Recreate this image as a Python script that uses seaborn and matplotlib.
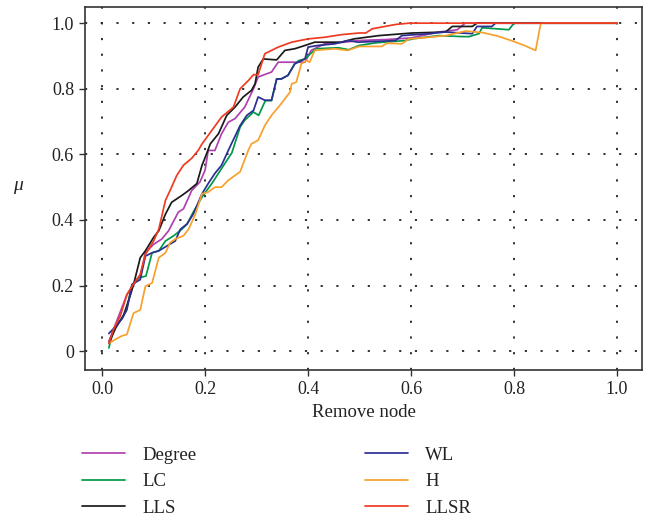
import numpy as np
import pandas as pd
import seaborn as sns
import matplotlib
matplotlib.use("Agg")
import matplotlib.pyplot as plt
from matplotlib.ticker import FixedLocator, FuncFormatter

# ---- data ----
x_degree = [0.013, 0.023, 0.048, 0.061, 0.074, 0.084, 0.10, 0.116, 0.129, 0.148, 0.158, 0.174, 0.19, 0.2,
            0.206, 0.219, 0.232, 0.245, 0.258, 0.277, 0.294, 0.303, 0.329, 0.342, 0.394, 0.406, 0.432, 0.471,
            0.497, 0.55, 0.60, 0.654, 0.69, 0.705, 1.0]
y_degree = [0.03, 0.07, 0.172, 0.203, 0.229, 0.30, 0.326, 0.342, 0.367, 0.424, 0.434, 0.49, 0.516, 0.552,
            0.612, 0.612, 0.663, 0.698, 0.709, 0.744, 0.80, 0.836, 0.851, 0.881, 0.881, 0.917, 0.937, 0.942,
            0.947, 0.95, 0.955, 0.973, 0.98, 1.0, 1.0]

x_lc = [0.013, 0.023, 0.039, 0.048, 0.058, 0.071, 0.085, 0.097, 0.11, 0.123, 0.139, 0.155, 0.165, 0.177,
        0.194, 0.213, 0.232, 0.252, 0.268, 0.277, 0.294, 0.304, 0.317, 0.329, 0.339, 0.348, 0.361, 0.374,
        0.382, 0.394, 0.415, 0.459, 0.479, 0.499, 0.531, 0.589, 0.602, 0.654, 0.70, 0.713, 0.732, 0.738,
        0.79, 0.80, 1.0]
y_lc = [0.01, 0.07, 0.10, 0.131, 0.203, 0.224, 0.229, 0.30, 0.306, 0.336, 0.352, 0.372, 0.388, 0.424,
        0.47, 0.511, 0.557, 0.605, 0.683, 0.704, 0.729, 0.719, 0.764, 0.764, 0.83, 0.83, 0.841, 0.876,
        0.886, 0.891, 0.922, 0.925, 0.919, 0.932, 0.94, 0.947, 0.952, 0.962, 0.959, 0.959, 0.968, 0.986,
        0.98, 1.0, 1.0]

x_lls = [0.013, 0.026, 0.042, 0.055, 0.061, 0.074, 0.084, 0.10, 0.11, 0.123, 0.135, 0.155, 0.168, 0.184,
         0.194, 0.20, 0.21, 0.226, 0.242, 0.258, 0.274, 0.29, 0.297, 0.303, 0.313, 0.339, 0.355, 0.374,
         0.394, 0.413, 0.465, 0.489, 0.537, 0.602, 0.667, 0.68, 0.719, 0.728, 1.0]
y_lls = [0.024, 0.07, 0.111, 0.172, 0.203, 0.285, 0.306, 0.347, 0.367, 0.418, 0.454, 0.475, 0.49, 0.511,
         0.567, 0.59, 0.632, 0.663, 0.719, 0.744, 0.775, 0.795, 0.815, 0.866, 0.891, 0.888, 0.917, 0.922,
         0.932, 0.942, 0.942, 0.952, 0.962, 0.97, 0.973, 0.99, 0.99, 1.0, 1.0]

x_wl = [0.013, 0.026, 0.039, 0.048, 0.058, 0.068, 0.074, 0.084, 0.097, 0.11, 0.126, 0.142, 0.152, 0.165,
        0.177, 0.194, 0.206, 0.219, 0.232, 0.245, 0.268, 0.281, 0.294, 0.303, 0.316, 0.329, 0.339, 0.348,
        0.361, 0.374, 0.394, 0.40, 0.419, 0.452, 0.477, 0.497, 0.57, 0.582, 0.635, 0.667, 0.719, 0.728,
        0.757, 0.764, 1.0]
y_wl = [0.054, 0.075, 0.10, 0.126, 0.203, 0.213, 0.218, 0.29, 0.30, 0.306, 0.321, 0.336, 0.372, 0.388,
        0.418, 0.48, 0.511, 0.542, 0.567, 0.612, 0.688, 0.719, 0.734, 0.775, 0.765, 0.765, 0.83, 0.83,
        0.841, 0.876, 0.891, 0.927, 0.932, 0.937, 0.947, 0.942, 0.947, 0.962, 0.968, 0.973, 0.968, 0.99,
        0.99, 1.0, 1.0]

x_h = [0.013, 0.029, 0.039, 0.048, 0.061, 0.074, 0.084, 0.097, 0.11, 0.123, 0.132, 0.142, 0.158, 0.168,
       0.181, 0.194, 0.206, 0.219, 0.232, 0.245, 0.268, 0.284, 0.29, 0.303, 0.316, 0.329, 0.345, 0.365,
       0.368, 0.377, 0.387, 0.397, 0.403, 0.413, 0.452, 0.477, 0.499, 0.543, 0.553, 0.582, 0.596, 0.635,
       0.667, 0.706, 0.74, 0.77, 0.80, 0.82, 0.842, 0.852, 1.0]
y_h = [0.024, 0.039, 0.047, 0.051, 0.116, 0.126, 0.198, 0.208, 0.285, 0.30, 0.331, 0.342, 0.352, 0.372,
       0.418, 0.48, 0.485, 0.50, 0.50, 0.521, 0.547, 0.613, 0.632, 0.643, 0.688, 0.719, 0.749, 0.79,
       0.815, 0.82, 0.876, 0.886, 0.881, 0.917, 0.922, 0.917, 0.929, 0.929, 0.939, 0.937, 0.952, 0.957,
       0.962, 0.976, 0.971, 0.96, 0.944, 0.932, 0.917, 1.0, 1.0]

x_llsr = [0.013, 0.023, 0.035, 0.048, 0.058, 0.074, 0.084, 0.10, 0.11, 0.123, 0.132, 0.145, 0.158, 0.174,
          0.187, 0.194, 0.213, 0.232, 0.255, 0.268, 0.284, 0.294, 0.303, 0.316, 0.342, 0.368, 0.40, 0.432,
          0.465, 0.499, 0.512, 0.525, 0.570, 0.596, 1.0]
y_llsr = [0.024, 0.07, 0.106, 0.172, 0.198, 0.234, 0.295, 0.336, 0.372, 0.46, 0.49, 0.536, 0.567, 0.588,
          0.613, 0.632, 0.673, 0.714, 0.744, 0.80, 0.825, 0.843, 0.843, 0.907, 0.927, 0.942, 0.952, 0.957,
          0.965, 0.970, 0.970, 0.983, 0.996, 1.0, 1.0]

methods = ["Degree", "LC", "LLS", "WL", "H", "LLSR"]
colors = ["#b040b0", "#00994a", "#1a1a1a", "#2b2f90", "#f7a02c", "#ee3b22"]
xs = [x_degree, x_lc, x_lls, x_wl, x_h, x_llsr]
ys = [y_degree, y_lc, y_lls, y_wl, y_h, y_llsr]

x_ticks = [0.0, 0.2, 0.4, 0.6, 0.8, 1.0]
y_ticks = [0.0, 0.2, 0.4, 0.6, 0.8, 1.0]

frames = []
for m, xv, yv in zip(methods, xs, ys):
    frames.append(pd.DataFrame({"x": xv, "y": yv, "method": m}))
df = pd.concat(frames, ignore_index=True)

# ---- style ----
sns.set_theme(style="white")
plt.rcParams["font.family"] = ["Liberation Serif", "DejaVu Serif"]

fig = plt.figure(figsize=(6.5, 5.2), dpi=100)
ax = fig.add_axes([0.131, 0.288, 0.857, 0.699])

sns.lineplot(data=df, x="x", y="y", hue="method", hue_order=methods,
             palette=dict(zip(methods, colors)), estimator=None, sort=False,
             units="method", linewidth=1.25, ax=ax, legend=True)

ax.set_xlim(-0.033, 1.049)
ax.set_ylim(-0.058, 1.05)
ax.xaxis.set_major_locator(FixedLocator(x_ticks))
ax.yaxis.set_major_locator(FixedLocator(y_ticks))
ax.xaxis.set_major_formatter(FuncFormatter(lambda v, p: f"{v:.1f}"))
ax.yaxis.set_major_formatter(FuncFormatter(lambda v, p: "0" if abs(v) < 1e-9 else f"{v:.1f}"))

ax.grid(True, color="#222222", linestyle=(0, (1.2, 7.5)), linewidth=1.3)
for s in ax.spines.values():
    s.set_visible(True)
    s.set_color("#333333")
    s.set_linewidth(1.2)
ax.tick_params(axis="both", which="major", direction="out", length=4, width=1,
               color="#333333", labelsize=13, labelcolor="#222222", pad=4,
               bottom=True, left=True, top=False, right=False)

ax.set_xlabel("Remove node", fontsize=13.5, color="#222222", labelpad=4)
ax.set_ylabel("μ", fontsize=14, style="italic", rotation=0, color="#222222")
ax.yaxis.set_label_coords(-0.12, 0.485)

handles, labels = ax.get_legend_handles_labels()
ax.legend(handles, labels, loc="upper left", bbox_to_anchor=(-0.005, -0.21),
          ncol=2, frameon=False, fontsize=13.5, handlelength=2.3, handletextpad=0.9,
          columnspacing=9.0, labelspacing=0.5, borderaxespad=0, borderpad=0,
          labelcolor="#222222")

fig.savefig("out.png", dpi=100, facecolor="white")
